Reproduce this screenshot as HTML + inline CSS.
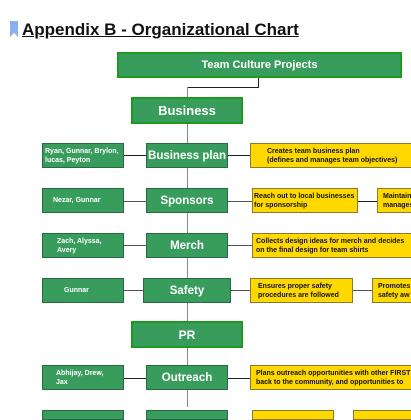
<!DOCTYPE html>
<html><head><style>
body{margin:0;width:411px;height:411px;overflow:hidden;background:#fff;font-family:"Liberation Sans",sans-serif;position:relative}
.a{position:absolute;box-sizing:border-box}
.g{background:#389c5c;color:#fff;font-weight:bold;display:flex;align-items:center;justify-content:center;border:1px solid #2a6a40;white-space:nowrap}
.t{border:2px solid #1b9a1b}
.l{font-size:7px;justify-content:flex-start;padding-left:2px;line-height:9px}
.c{font-size:11.5px;padding:0}
.y{background:#ffd800;border:1px solid #8a7a30;font-size:7px;font-weight:bold;color:#111;line-height:9px;display:flex;align-items:center;padding-left:3px;white-space:nowrap;overflow:hidden}
.h{height:1px;background:#555}
.v{width:1px;background:#888}
</style></head><body>
<div class="a" style="left:10px;top:21px;width:8px;height:16px;background:#8ab0ee;clip-path:polygon(0 0,100% 0,100% 100%,50% 75%,0 100%)"></div>
<div class="a" style="left:22px;top:20px;font-size:17px;font-weight:bold;color:#111;text-decoration:underline;white-space:nowrap">Appendix B - Organizational Chart</div>

<div class="a v" style="left:258px;top:77px;height:10px;background:#222"></div>
<div class="a h" style="left:187px;top:87px;width:72px;background:#222"></div>
<div class="a v" style="left:187px;top:87px;height:320px"></div>

<div class="a g t" style="left:117px;top:52px;width:285px;height:26px;font-size:11px">Team Culture Projects</div>
<div class="a g t" style="left:131px;top:97px;width:112px;height:27px;font-size:13px">Business</div>

<div class="a h" style="left:124px;top:155px;width:126px;background:#222"></div>
<div class="a g l" style="left:42px;top:143px;width:82px;height:25px">Ryan, Gunnar, Brylon,<br>lucas, Peyton</div>
<div class="a g c" style="left:146px;top:143px;width:82px;height:25px">Business plan</div>
<div class="a y" style="left:250px;top:143px;width:170px;height:25px;padding-left:16px">Creates team business plan<br>(defines and manages team objectives)</div>

<div class="a h" style="left:124px;top:201px;width:128px"></div>
<div class="a h" style="left:357px;top:201px;width:20px;background:#222"></div>
<div class="a g l" style="left:42px;top:188px;width:82px;height:25px;padding-left:10px">Nezar, Gunnar</div>
<div class="a g c" style="left:146px;top:188px;width:82px;height:25px">Sponsors</div>
<div class="a y" style="left:252px;top:188px;width:106px;height:25px;padding-left:1px">Reach out to local businesses<br>for sponsorship</div>
<div class="a y" style="left:377px;top:188px;width:50px;height:25px;padding-left:5px">Maintains<br>manages</div>

<div class="a h" style="left:124px;top:245px;width:128px"></div>
<div class="a g l" style="left:42px;top:233px;width:82px;height:25px;padding-left:14px">Zach, Alyssa,<br>Avery</div>
<div class="a g c" style="left:146px;top:233px;width:82px;height:25px">Merch</div>
<div class="a y" style="left:252px;top:233px;width:170px;height:25px">Collects design ideas for merch and decides<br>on the final design for team shirts</div>

<div class="a h" style="left:124px;top:290px;width:128px"></div>
<div class="a h" style="left:352px;top:290px;width:20px"></div>
<div class="a g l" style="left:42px;top:278px;width:82px;height:25px;padding-left:21px">Gunnar</div>
<div class="a g c" style="left:143px;top:278px;width:88px;height:25px">Safety</div>
<div class="a y" style="left:250px;top:278px;width:103px;height:25px;padding-left:7px">Ensures proper safety<br>procedures are followed</div>
<div class="a y" style="left:372px;top:278px;width:50px;height:25px;padding-left:5px">Promotes<br>safety aw</div>

<div class="a g t" style="left:131px;top:321px;width:112px;height:27px;font-size:12px">PR</div>

<div class="a h" style="left:124px;top:378px;width:126px;background:#222"></div>
<div class="a g l" style="left:42px;top:365px;width:82px;height:25px;padding-left:13px">Abhijay, Drew,<br>Jax</div>
<div class="a g c" style="left:146px;top:365px;width:82px;height:25px">Outreach</div>
<div class="a y" style="left:250px;top:365px;width:170px;height:25px;padding-left:5px">Plans outreach opportunities with other FIRST<br>back to the community, and opportunities to</div>

<div class="a g" style="left:42px;top:410px;width:82px;height:10px"></div>
<div class="a g" style="left:146px;top:410px;width:82px;height:10px"></div>
<div class="a y" style="left:252px;top:410px;width:82px;height:10px"></div>
<div class="a y" style="left:353px;top:410px;width:70px;height:10px"></div>
</body></html>
